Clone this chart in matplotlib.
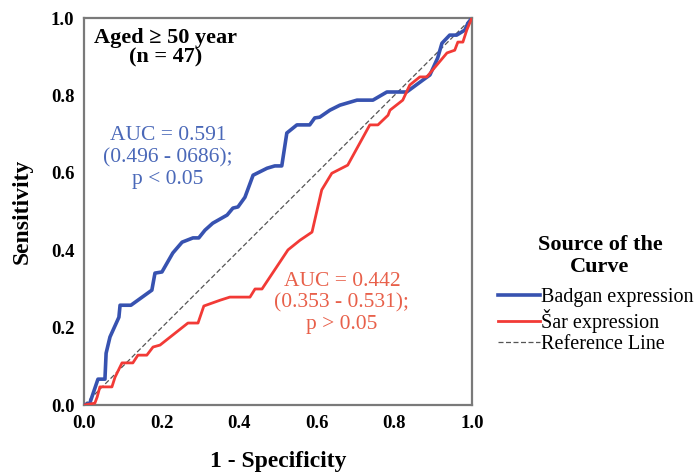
import matplotlib
matplotlib.use("Agg")
import matplotlib.pyplot as plt

# Badgan expression ROC curve (1 - specificity, sensitivity)
badgan_fpr = [0.0, 0.015, 0.036, 0.054, 0.057, 0.067, 0.090, 0.093, 0.121, 0.175, 0.183,
              0.201, 0.229, 0.253, 0.281, 0.296, 0.312, 0.332, 0.369, 0.384, 0.397, 0.415,
              0.436, 0.472, 0.492, 0.510, 0.523, 0.549, 0.582, 0.595, 0.608, 0.634, 0.660,
              0.704, 0.745, 0.781, 0.832, 0.874, 0.892, 0.912, 0.923, 0.943, 0.961, 0.982,
              0.990, 1.0]
badgan_tpr = [0.0, 0.005, 0.067, 0.067, 0.134, 0.176, 0.227, 0.258, 0.258, 0.297, 0.341,
              0.344, 0.393, 0.421, 0.432, 0.432, 0.452, 0.470, 0.491, 0.509, 0.512, 0.537,
              0.594, 0.612, 0.618, 0.618, 0.703, 0.724, 0.724, 0.742, 0.744, 0.762, 0.775,
              0.788, 0.788, 0.809, 0.809, 0.840, 0.853, 0.897, 0.935, 0.956, 0.956, 0.969,
              0.987, 1.0]

# Sar expression ROC curve
sar_fpr = [0.0, 0.028, 0.034, 0.041, 0.072, 0.080, 0.098, 0.126, 0.139, 0.162, 0.178,
           0.196, 0.268, 0.294, 0.309, 0.351, 0.376, 0.428, 0.441, 0.459, 0.526, 0.557,
           0.588, 0.613, 0.639, 0.680, 0.737, 0.758, 0.784, 0.789, 0.822, 0.840, 0.866,
           0.884, 0.905, 0.936, 0.956, 0.964, 0.977, 0.987, 1.0]
sar_tpr = [0.0, 0.005, 0.021, 0.047, 0.047, 0.072, 0.109, 0.109, 0.129, 0.129, 0.150,
           0.155, 0.212, 0.212, 0.256, 0.271, 0.279, 0.279, 0.300, 0.300, 0.401, 0.426,
           0.447, 0.556, 0.599, 0.620, 0.724, 0.724, 0.749, 0.762, 0.788, 0.827, 0.848,
           0.848, 0.873, 0.910, 0.917, 0.938, 0.938, 0.969, 1.0]

ref_x = [0.0, 1.0]
ref_y = [0.0, 1.0]

ticks = [0.0, 0.2, 0.4, 0.6, 0.8, 1.0]
tick_labels = ["0.0", "0.2", "0.4", "0.6", "0.8", "1.0"]

title_text = "Aged \u2265 50 year\n(n = 47)"
badgan_note = "AUC = 0.591\n(0.496 - 0686);\np < 0.05"
sar_note = "AUC = 0.442\n(0.353 - 0.531);\np > 0.05"
legend_title = "Source of the\nCurve"

serif = ["Liberation Serif", "DejaVu Serif"]
blue = "#3752b0"
red = "#f23a36"

fig = plt.figure(figsize=(7.0, 4.76), dpi=100)
ax = fig.add_axes([0.12, 0.149, 0.554, 0.813])

ax.plot(badgan_fpr, badgan_tpr, color=blue, lw=2.6, label="Badgan expression", zorder=3)
ax.plot(sar_fpr, sar_tpr, color=red, lw=2.0, label="\u0160ar expression", zorder=3)
ax.plot(ref_x, ref_y, color="#555555", lw=0.9, ls=(0, (4, 2)), label="Reference Line", zorder=2)

ax.set_xlim(0, 1)
ax.set_ylim(0, 1)
ax.set_xticks(ticks)
ax.set_yticks(ticks)
ax.set_xticklabels(tick_labels, fontfamily=serif, fontweight="bold", fontsize=13.5)
ax.set_yticklabels(tick_labels, fontfamily=serif, fontweight="bold", fontsize=13.5)
ax.tick_params(length=0, pad=7)
for s in ax.spines.values():
    s.set_color("#7a7a7a")
    s.set_linewidth(1.6)

ax.set_xlabel("1 - Specificity", fontfamily=serif, fontweight="bold", fontsize=17, labelpad=14)
ax.set_ylabel("Sensitivity", fontfamily=serif, fontweight="bold", fontsize=17, labelpad=13)

ax.text(0.21, 0.975, title_text, transform=ax.transAxes, ha="center", va="top",
        fontfamily=serif, fontweight="bold", fontsize=16, linespacing=0.95)
ax.text(0.217, 0.72, badgan_note, transform=ax.transAxes, ha="center", va="top",
        fontfamily=serif, color="#4a68b8", fontsize=15.5, linespacing=1.18)
ax.text(0.665, 0.345, sar_note, transform=ax.transAxes, ha="center", va="top",
        fontfamily=serif, color="#e8604a", fontsize=15.5, linespacing=1.2)

fig.text(600 / 700, 1 - 235 / 476, legend_title, ha="center", va="top",
         fontfamily=serif, fontweight="bold", fontsize=16, linespacing=1.1)
leg = ax.legend(loc="center left", bbox_to_anchor=(0.711, 1 - 321 / 476),
                bbox_transform=fig.transFigure,
                frameon=False, handlelength=2.1, handletextpad=0.05,
                labelspacing=0.1, borderaxespad=0, borderpad=0,
                prop={"family": serif, "size": 14.5})

fig.savefig("out.png", dpi=100)
